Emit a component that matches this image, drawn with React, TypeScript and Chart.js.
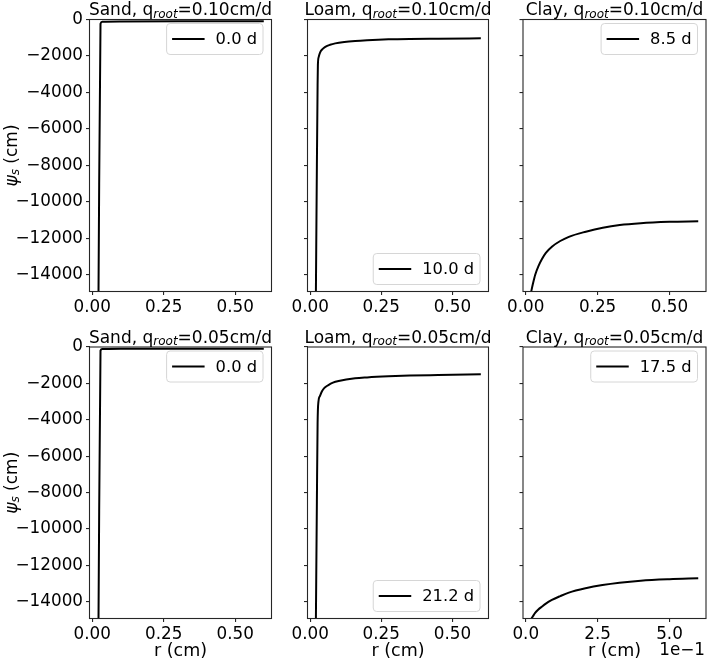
import React, { useEffect, useRef } from "react";
import { Chart, registerables } from "chart.js";

Chart.register(...registerables);

const FONT = "'DejaVu Sans', sans-serif";

// ---- axes / ticks ----
const yTickValues = [0, -2000, -4000, -6000, -8000, -10000, -12000, -14000];
const xTickValues = [0, 0.25, 0.5];
const yLimits = [-14920, 0];
const xLimits = [-0.0095, 0.627];

// ---- categories ----
const soils = ["Sand", "Loam", "Clay"];
const qRootValues = ["0.10", "0.05"];
const dayLabelsQ10 = ["0.0 d", "10.0 d", "8.5 d"];
const dayLabelsQ05 = ["0.0 d", "21.2 d", "17.5 d"];

// ---- series: r (cm) and psi_s (cm) ----
const sandQ10R = [0.022, 0.029, 0.035, 0.1, 0.3, 0.6];
const sandQ10Psi = [-15000, -230, -125, -110, -100, -100];

const loamQ10R = [0.02, 0.0235, 0.026, 0.027, 0.03, 0.035, 0.045, 0.053, 0.07, 0.088, 0.12, 0.158, 0.2, 0.275, 0.35, 0.45, 0.6];
const loamQ10Psi = [-15000, -8000, -3600, -2500, -2050, -1800, -1600, -1500, -1385, -1310, -1235, -1180, -1140, -1090, -1065, -1050, -1030];

const clayQ10R = [0.018, 0.025, 0.033, 0.045, 0.056, 0.07, 0.092, 0.12, 0.15, 0.209, 0.268, 0.327, 0.4, 0.5, 0.6];
const clayQ10Psi = [-15000, -14500, -14000, -13500, -13150, -12800, -12450, -12150, -11920, -11640, -11420, -11270, -11170, -11100, -11065];

const sandQ05R = [0.022, 0.029, 0.035, 0.1, 0.3, 0.6];
const sandQ05Psi = [-15000, -200, -110, -95, -90, -90];

const loamQ05R = [0.02, 0.0235, 0.026, 0.029, 0.034, 0.041, 0.05, 0.064, 0.08, 0.1, 0.158, 0.2, 0.275, 0.35, 0.45, 0.6];
const loamQ05Psi = [-15000, -8500, -4200, -3000, -2700, -2450, -2250, -2090, -1960, -1870, -1720, -1670, -1610, -1570, -1540, -1500];

const clayQ05R = [0.019, 0.025, 0.032, 0.043, 0.056, 0.07, 0.091, 0.12, 0.15, 0.208, 0.267, 0.326, 0.4, 0.5, 0.6];
const clayQ05Psi = [-14950, -14800, -14630, -14440, -14270, -14100, -13900, -13690, -13500, -13260, -13080, -12950, -12840, -12760, -12710];

const seriesR = [[sandQ10R, loamQ10R, clayQ10R], [sandQ05R, loamQ05R, clayQ05R]];
const seriesPsi = [[sandQ10Psi, loamQ10Psi, clayQ10Psi], [sandQ05Psi, loamQ05Psi, clayQ05Psi]];
const dayLabels = [dayLabelsQ10, dayLabelsQ05];

// ---- layout (px) ----
const COLS = [
  { left: 0, width: 290, axisW: 89.5, padR: 18.5 },
  { left: 290, width: 215, axisW: 17.5, padR: 16.5 },
  { left: 505, width: 203, axisW: 18, padR: 2 },
];
const ROWS = [
  { top: 0, height: 330, padT: 19.5, axisH: 38.5 },
  { top: 330, height: 330, padT: 17, axisH: 41.5 },
];

type Part = { t: string; size: number; italic?: boolean; dy?: number };

function drawParts(ctx: CanvasRenderingContext2D, parts: Part[], cx: number, y: number) {
  let total = 0;
  const widths = parts.map((p) => {
    ctx.font = `${p.italic ? "italic " : ""}${p.size}px ${FONT}`;
    const w = ctx.measureText(p.t).width;
    total += w;
    return w;
  });
  let x = cx - total / 2;
  ctx.textAlign = "left";
  ctx.textBaseline = "alphabetic";
  parts.forEach((p, i) => {
    ctx.font = `${p.italic ? "italic " : ""}${p.size}px ${FONT}`;
    ctx.fillText(p.t, x, y + (p.dy || 0));
    x += widths[i];
  });
}

interface PanelProps {
  row: number;
  col: number;
}

function Panel({ row, col }: PanelProps) {
  const ref = useRef<HTMLCanvasElement | null>(null);
  const C = COLS[col];
  const R = ROWS[row];

  useEffect(() => {
    const canvas = ref.current;
    if (!canvas) return;
    const xs = seriesR[row][col];
    const ys = seriesPsi[row][col];
    const label = dayLabels[row][col];
    const soil = soils[col];
    const q = qRootValues[row];
    const legendBottom = col === 1;
    const sci = row === 1 && col === 2;
    const tickFont = { family: FONT, size: 16.8 };

    const decor = {
      id: "decor",
      afterDraw(chart: any) {
        const ctx: CanvasRenderingContext2D = chart.ctx;
        const a = chart.chartArea;
        ctx.save();
        // frame
        ctx.strokeStyle = "#262626";
        ctx.lineWidth = 1.1;
        ctx.strokeRect(a.left, a.top, a.right - a.left, a.bottom - a.top);
        ctx.fillStyle = "#000";
        // title
        const cx = (a.left + a.right) / 2;
        drawParts(
          ctx,
          [
            { t: `${soil}, q`, size: 17 },
            { t: "root", size: 12, italic: true, dy: 2.5 },
            { t: `=${q}cm/d`, size: 17 },
          ],
          cx,
          a.top - 4.5
        );
        // y label
        if (col === 0) {
          ctx.save();
          ctx.translate(16.5, (a.top + a.bottom) / 2);
          ctx.rotate(-Math.PI / 2);
          drawParts(
            ctx,
            [
              { t: "ψ", size: 17, italic: true },
              { t: "s", size: 12, italic: true, dy: 2.5 },
              { t: " (cm)", size: 17 },
            ],
            0,
            0
          );
          ctx.restore();
        }
        // x label
        if (row === 1) {
          drawParts(ctx, [{ t: "r (cm)", size: 17.5 }], cx, chart.height - 4.5);
        }
        if (sci) {
          ctx.font = `16.8px ${FONT}`;
          ctx.textAlign = "right";
          ctx.textBaseline = "alphabetic";
          ctx.fillText("1e\u22121", a.right - 1, chart.height - 5);
        }
        // legend
        const fs = 16.3;
        ctx.font = `${fs}px ${FONT}`;
        const tw = ctx.measureText(label).width;
        const padL = 5.5, handle = 32.5, gap = 11, padR = 6, h = 31;
        const w = padL + handle + gap + tw + padR;
        const x0 = a.right - 8.5 - w;
        const y0 = legendBottom ? a.bottom - 7 - h : a.top + 4;
        ctx.beginPath();
        (ctx as any).roundRect(x0, y0, w, h, 3.5);
        ctx.fillStyle = "rgba(255,255,255,0.85)";
        ctx.fill();
        ctx.strokeStyle = "#d6d6d6";
        ctx.lineWidth = 1;
        ctx.stroke();
        ctx.beginPath();
        ctx.moveTo(x0 + padL, y0 + h / 2);
        ctx.lineTo(x0 + padL + handle, y0 + h / 2);
        ctx.strokeStyle = "#000";
        ctx.lineWidth = 2;
        ctx.stroke();
        ctx.fillStyle = "#000";
        ctx.textAlign = "left";
        ctx.textBaseline = "middle";
        ctx.fillText(label, x0 + padL + handle + gap, y0 + h / 2 + 1);
        ctx.restore();
      },
    };

    const chart = new Chart(canvas, {
      type: "line",
      data: {
        datasets: [
          {
            label,
            data: xs.map((v, i) => ({ x: v, y: ys[i] })),
            borderColor: "#000",
            borderWidth: 2,
            pointRadius: 0,
            fill: false,
            cubicInterpolationMode: "monotone",
            clip: 0,
          } as any,
        ],
      },
      options: {
        animation: false,
        responsive: false,
        maintainAspectRatio: false,
        events: [],
        layout: { padding: { top: R.padT, right: C.padR, left: 0, bottom: 0 } },
        plugins: {
          legend: { display: false },
          tooltip: { enabled: false },
          title: { display: false },
        },
        scales: {
          x: {
            type: "linear",
            min: xLimits[0],
            max: xLimits[1],
            afterBuildTicks: (s: any) => {
              s.ticks = xTickValues.map((v) => ({ value: v }));
            },
            afterFit: (s: any) => {
              s.height = R.axisH;
              s.paddingLeft = 0;
              s.paddingRight = 0;
            },
            grid: { drawOnChartArea: false, drawTicks: true, tickLength: 3.5, color: "#262626", lineWidth: 1.1 },
            border: { display: false },
            ticks: {
              font: tickFont,
              color: "#000",
              padding: 2.5,
              maxRotation: 0,
              autoSkip: false,
              callback: (v: any) => (sci ? (Number(v) * 10).toFixed(1) : Number(v).toFixed(2)),
            },
          },
          y: {
            type: "linear",
            min: yLimits[0],
            max: yLimits[1],
            afterBuildTicks: (s: any) => {
              s.ticks = yTickValues.map((v) => ({ value: v }));
            },
            afterFit: (s: any) => {
              s.width = C.axisW;
              s.paddingTop = 0;
              s.paddingBottom = 0;
            },
            grid: { drawOnChartArea: false, drawTicks: true, tickLength: 3.5, color: "#262626", lineWidth: 1.1 },
            border: { display: false },
            ticks: {
              display: col === 0,
              font: tickFont,
              color: "#000",
              padding: 3,
              autoSkip: false,
              callback: (v: any) => String(Math.round(Number(v))).replace("-", "\u2212"),
            },
          },
        },
      },
      plugins: [decor],
    } as any);
    return () => chart.destroy();
  }, [row, col]);

  return (
    <canvas
      ref={ref}
      width={C.width}
      height={R.height}
      style={{ position: "absolute", left: C.left, top: R.top, width: C.width, height: R.height }}
    />
  );
}

export default function App() {
  const cells: React.ReactElement[] = [];
  for (let r = 0; r < 2; r++) for (let c = 0; c < 3; c++) cells.push(<Panel key={`${r}-${c}`} row={r} col={c} />);
  return (
    <div style={{ position: "absolute", left: 0, top: 0, width: 708, height: 660, background: "#fff", overflow: "hidden" }}>
      {cells}
    </div>
  );
}
